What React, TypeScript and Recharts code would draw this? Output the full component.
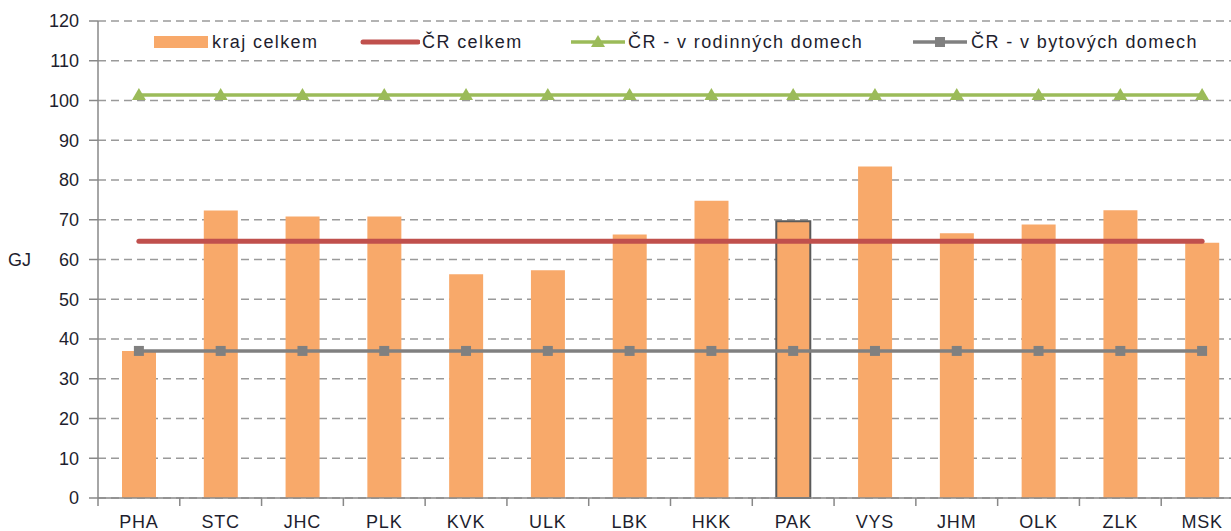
import React from 'react';
import { ComposedChart, Bar, Line, XAxis, YAxis, CartesianGrid, Cell } from 'recharts';

const categories = ['PHA', 'STC', 'JHC', 'PLK', 'KVK', 'ULK', 'LBK', 'HKK', 'PAK', 'VYS', 'JHM', 'OLK', 'ZLK', 'MSK'];
const krajCelkem = [37, 72.3, 70.8, 70.8, 56.3, 57.3, 66.3, 74.8, 69.6, 83.4, 66.6, 68.8, 72.4, 64.2];
const crCelkem = [64.6, 64.6, 64.6, 64.6, 64.6, 64.6, 64.6, 64.6, 64.6, 64.6, 64.6, 64.6, 64.6, 64.6];
const crRodinne = [101.4, 101.4, 101.4, 101.4, 101.4, 101.4, 101.4, 101.4, 101.4, 101.4, 101.4, 101.4, 101.4, 101.4];
const crBytove = [37, 37, 37, 37, 37, 37, 37, 37, 37, 37, 37, 37, 37, 37];
const seriesNames = ['kraj celkem', 'ČR celkem', 'ČR - v rodinných domech', 'ČR - v bytových domech'];
const yTicks = [0, 10, 20, 30, 40, 50, 60, 70, 80, 90, 100, 110, 120];
const highlighted = 'PAK';

const data = categories.map((c, i) => ({
  name: c,
  kraj: krajCelkem[i],
  cr: crCelkem[i],
  rod: crRodinne[i],
  byt: crBytove[i],
}));

const CHART_W = 1250;
const CHART_H = 531;
const M_TOP = 21;
const M_RIGHT = 7;
const Y_W = 98;
const X_H = 33;
const BAND = (CHART_W - Y_W - M_RIGHT) / categories.length;

const FONT = '"Liberation Sans", Arial, sans-serif';
const TEXT = '#1e1e2e';

const XTick = (props: any) => {
  const { x, y, payload } = props;
  return (
    <g>
      <line x1={x - BAND / 2} x2={x - BAND / 2} y1={y - 10} y2={y - 2} stroke="#888" strokeWidth={1.5} />
      <text x={x} y={y + 20} textAnchor="middle" fill={TEXT} fontSize={18} fontFamily={FONT} letterSpacing={0.8}>
        {payload.value}
      </text>
    </g>
  );
};

const Triangle = (props: any) => {
  const { cx, cy } = props;
  if (cx == null || cy == null) return null;
  return <polygon points={`${cx - 7},${cy + 5} ${cx + 7},${cy + 5} ${cx},${cy - 7}`} fill="#9BBB59" />;
};

const Square = (props: any) => {
  const { cx, cy } = props;
  if (cx == null || cy == null) return null;
  return <rect x={cx - 5} y={cy - 5} width={10} height={10} fill="#808080" />;
};

const legendText: React.CSSProperties = {
  position: 'absolute',
  top: 0,
  fontFamily: FONT,
  fontSize: 18,
  letterSpacing: 1.4,
  color: TEXT,
  whiteSpace: 'nowrap',
  lineHeight: '22px',
};

const LegendBox = () => (
  <div style={{ position: 'absolute', left: 150, top: 31, width: 1080, height: 22 }}>
    <div style={{ position: 'absolute', left: 4, top: 5, width: 54, height: 12, background: '#F8A96A' }} />
    <div style={{ ...legendText, left: 62 }}>{seriesNames[0]}</div>
    <svg style={{ position: 'absolute', left: 210, top: 0 }} width={60} height={22}>
      <line x1={3} x2={58} y1={11} y2={11} stroke="#C0504D" strokeWidth={5} strokeLinecap="round" />
    </svg>
    <div style={{ ...legendText, left: 272 }}>{seriesNames[1]}</div>
    <svg style={{ position: 'absolute', left: 420, top: 0 }} width={56} height={22}>
      <line x1={1} x2={55} y1={11} y2={11} stroke="#9BBB59" strokeWidth={3.5} />
      <polygon points="21,16 35,16 28,4" fill="#9BBB59" />
    </svg>
    <div style={{ ...legendText, left: 478 }}>{seriesNames[2]}</div>
    <svg style={{ position: 'absolute', left: 762, top: 0 }} width={56} height={22}>
      <line x1={1} x2={55} y1={11} y2={11} stroke="#808080" strokeWidth={3.5} />
      <rect x={23} y={6} width={10} height={10} fill="#808080" />
    </svg>
    <div style={{ ...legendText, left: 821 }}>{seriesNames[3]}</div>
  </div>
);

export default function App() {
  return (
    <div style={{ position: 'absolute', left: 0, top: 0, width: 1231, height: 531, overflow: 'hidden', background: '#fff' }}>
      <ComposedChart
        width={CHART_W}
        height={CHART_H}
        data={data}
        margin={{ top: M_TOP, right: M_RIGHT, bottom: 0, left: 0 }}
      >
        <CartesianGrid vertical={false} stroke="#9a9a9a" strokeDasharray="8 5" strokeWidth={1.5} />
        <XAxis
          dataKey="name"
          height={X_H}
          tickLine={false}
          tickSize={8}
          tickMargin={2}
          axisLine={{ stroke: '#888', strokeWidth: 1.5 }}
          tick={<XTick />}
          interval={0}
        />
        <YAxis
          width={Y_W}
          domain={[0, 120]}
          ticks={yTicks}
          interval={0}
          tickSize={9}
          tickMargin={10}
          axisLine={{ stroke: '#888', strokeWidth: 1.5 }}
          tickLine={{ stroke: '#888', strokeWidth: 1.5 }}
          tick={{ fill: TEXT, fontSize: 18, fontFamily: FONT }}
          label={{ value: 'GJ', position: 'insideLeft', offset: 8, fill: TEXT, fontSize: 18, fontFamily: FONT }}
        />
        <Bar dataKey="kraj" name={seriesNames[0]} fill="#F8A96A" barSize={34} isAnimationActive={false}>
          {data.map((d) => (
            <Cell
              key={d.name}
              fill="#F8A96A"
              stroke={d.name === highlighted ? '#5a5a5a' : 'none'}
              strokeWidth={d.name === highlighted ? 2 : 0}
            />
          ))}
        </Bar>
        <Line dataKey="cr" name={seriesNames[1]} stroke="#C0504D" strokeWidth={5} dot={false} activeDot={false} isAnimationActive={false} strokeLinecap="round" />
        <Line dataKey="rod" name={seriesNames[2]} stroke="#9BBB59" strokeWidth={3.5} dot={<Triangle />} activeDot={false} isAnimationActive={false} />
        <Line dataKey="byt" name={seriesNames[3]} stroke="#808080" strokeWidth={3.5} dot={<Square />} activeDot={false} isAnimationActive={false} />
      </ComposedChart>
      <LegendBox />
    </div>
  );
}
